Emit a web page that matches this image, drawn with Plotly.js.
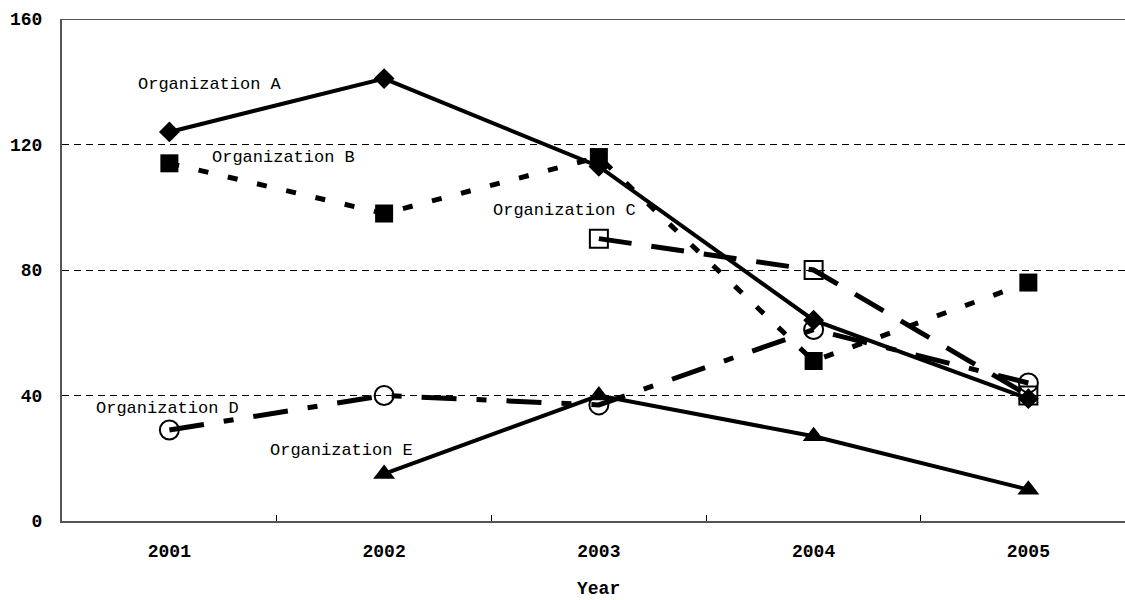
<!DOCTYPE html>
<html>
<head>
<meta charset="utf-8">
<script src="https://cdn.plot.ly/plotly-3.0.1.min.js"></script>
<style>html,body{margin:0;padding:0;background:#fff;}#chart{width:1125px;height:600px;}</style>
</head>
<body>
<div id="chart"></div>
<script>
const years = ["2001", "2002", "2003", "2004", "2005"];
const orgA = [124, 141, 113, 64, 39];
const orgB = [114, 98, 116, 51, 76];
const orgC = [null, null, 90, 80, 40];
const orgD = [29, 40, 37, 61, 44];
const orgE = [null, 15, 40, 27, 10];
const seriesNames = ["Organization A", "Organization B", "Organization C", "Organization D", "Organization E"];
const yTicks = [0, 40, 80, 120, 160];

const mono = "'Liberation Mono', 'Courier New', monospace";

const traces = [
  {name: seriesNames[1], y: orgB, line: {width: 5, dash: "10px,20px"}, marker: {symbol: "square", size: 18}},
  {name: seriesNames[2], y: orgC, line: {width: 5, dash: "33px,20px"}, marker: {symbol: "square-open", size: 18, line: {width: 2}}},
  {name: seriesNames[3], y: orgD, line: {width: 5, dash: "35px,20px,10px,20px"}, marker: {symbol: "circle-open", size: 19, line: {width: 2}}},
  {name: seriesNames[4], y: orgE, line: {width: 4}, marker: {symbol: "triangle-up", size: 19}},
  {name: seriesNames[0], y: orgA, line: {width: 4}, marker: {symbol: "diamond", size: 16}}
].map(t => Object.assign({
  type: "scatter", mode: "lines+markers", x: years, connectgaps: false,
  hoverinfo: "skip"
}, t, {line: Object.assign({color: "#000"}, t.line), marker: Object.assign({color: "#000"}, t.marker)}));

const annFont = {family: mono, size: 17, color: "#000"};
const annotations = [
  {text: seriesNames[0], x: 0.19, y: 139},
  {text: seriesNames[1], x: 0.53, y: 116},
  {text: seriesNames[2], x: 1.84, y: 99},
  {text: seriesNames[3], x: -0.01, y: 36},
  {text: seriesNames[4], x: 0.80, y: 22.6}
].map(a => Object.assign({xref: "x", yref: "y", showarrow: false, font: annFont}, a));
annotations.push({text: "<b>Year</b>", xref: "x", yref: "paper", x: 2, y: 0, yshift: -80, showarrow: false,
  font: {family: mono, size: 18, color: "#000"}});

const layout = {
  width: 1125, height: 600,
  margin: {l: 62, r: 0, t: 19, b: 79},
  paper_bgcolor: "#fff", plot_bgcolor: "#fff",
  showlegend: false,
  xaxis: {
    type: "category", range: [-0.5, 4.45],
    tickson: "boundaries", ticks: "inside", ticklen: 6, tickcolor: "#000", tickwidth: 1,
    showgrid: false, zeroline: false,
    showline: true, linecolor: "#555", linewidth: 2,
    tickfont: {family: mono, size: 18, color: "#000", weight: "bold"},
    ticklabelstandoff: 12
  },
  yaxis: {
    range: [0, 160], tickvals: yTicks, ticktext: yTicks.map(String),
    showgrid: true, gridcolor: "#000", gridwidth: 1, griddash: "7px,5px",
    zeroline: false, showline: true, linecolor: "#555", linewidth: 2,
    ticks: "", ticklabelstandoff: 14,
    tickfont: {family: mono, size: 18, color: "#000", weight: "bold"}
  },
  shapes: [
    {type: "line", xref: "paper", yref: "y", x0: 0, x1: 1, y0: 160, y1: 160, line: {color: "#555", width: 2}}
  ],
  annotations: annotations
};

Plotly.newPlot("chart", traces, layout, {staticPlot: true, displayModeBar: false});
</script>
</body>
</html>
